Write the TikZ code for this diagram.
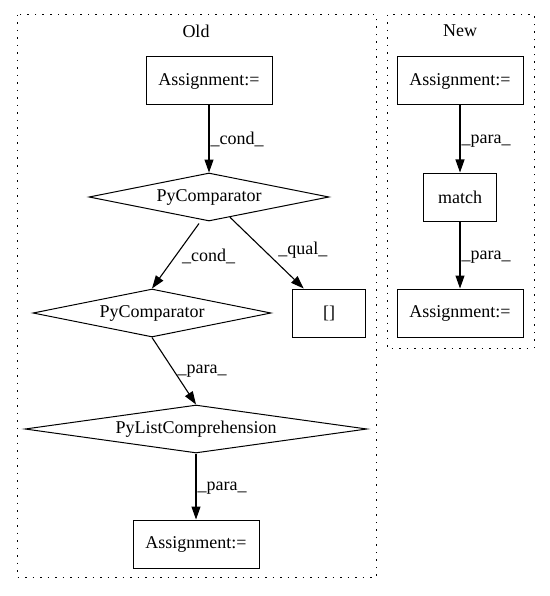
\documentclass[tikz,border=0pt]{standalone}
\usepackage{fontspec}
\setmainfont{Liberation Serif}
\usetikzlibrary{shapes.geometric,arrows.meta}

\tikzset{
    txt/.style={font=\fontsize{18}{22}\selectfont},
    box/.style={txt,draw,line width=1pt,minimum width=126pt,minimum height=48pt,inner sep=0pt},
    smallbox/.style={box,minimum width=73pt},
    cmp/.style={txt,draw,diamond,line width=1pt,inner sep=0pt,aspect=5,minimum width=240pt,minimum height=48pt},
    cluster/.style={line width=1pt,dash pattern=on 1.5pt off 6pt},
    flow/.style={line width=1.1pt,-{Triangle[length=13pt,width=9pt]}},
    elabel/.style={txt,anchor=west,inner sep=1pt}
}

\begin{document}
                \begin{tikzpicture}[x=1pt,y=-1pt]
                    \useasboundingbox (0,0) rectangle (549,596);

                    % Clusters
                    \draw[cluster] (17,15) rectangle (376,577);
                    \draw[cluster] (387,15) rectangle (534,348);
                    \node[txt] (oldlbl) at (196,31) {Old};
                    \node[txt] (newlbl) at (460,31) {New};

                    % Define nodes (old)
                    \node[box] (oasg1) at (209,81) {Assignment:=};
                    \node[cmp] (ocmp1) at (209,197) {PyComparator};
                    \node[cmp,aspect=4.96,minimum width=238pt] (ocmp2) at (152,313) {PyComparator};
                    \node[smallbox] (osub) at (329,313) {[]};
                    \node[cmp,aspect=7.125,minimum width=342pt] (olist) at (196,429) {PyListComprehension};
                    \node[box] (oasg2) at (196,544) {Assignment:=};
                    \coordinate (ocmp1out) at ([xshift=-10pt,yshift=-2pt]ocmp1.south);

                    % Define nodes (new)
                    \node[box] (nasg1) at (460,81) {Assignment:=};
                    \node[smallbox] (nmatch) at (460,197) {match};
                    \node[box] (nasg2) at (460,313) {Assignment:=};

                    % Draw edges
                    \draw[flow] (oasg1) -- node[elabel] {\_cond\_} (ocmp1);
                    \draw[flow] (ocmp1out) -- node[elabel,xshift=5pt] {\_cond\_} (ocmp2.north);
                    \draw[flow] (ocmp1) -- node[elabel,xshift=10pt,yshift=3pt] {\_qual\_} (osub);
                    \draw[flow] (ocmp2.south) -- node[elabel,xshift=2pt] {\_para\_} (olist.north);
                    \draw[flow] (olist) -- node[elabel,yshift=-2pt] {\_para\_} (oasg2);

                    \foreach \from/\to in {nasg1/nmatch, nmatch/nasg2}
                        \draw[flow] (\from) -- node[elabel,yshift=-2pt] {\_para\_} (\to);

                \end{tikzpicture}
\end{document}
